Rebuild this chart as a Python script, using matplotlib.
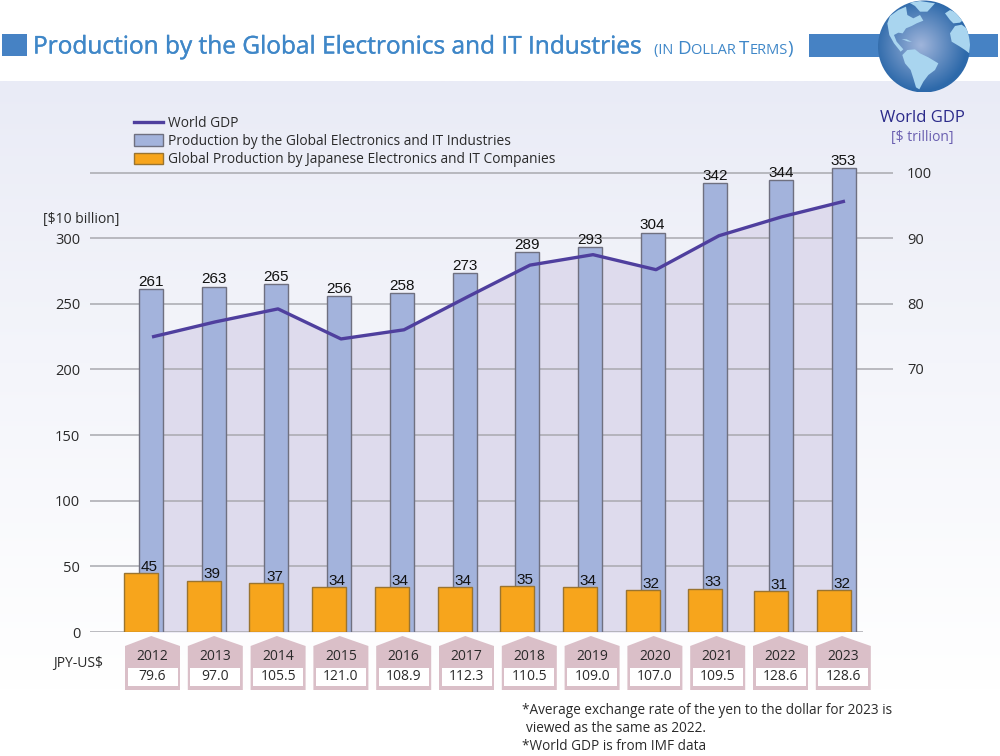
import numpy as np
import matplotlib
matplotlib.use("Agg")
import matplotlib.pyplot as plt
import matplotlib.patheffects as PathEffects
from matplotlib.patches import Circle, Polygon, Rectangle
from matplotlib.lines import Line2D
from matplotlib.transforms import blended_transform_factory

plt.rcParams["font.family"] = ["Open Sans", "DejaVu Sans"]

years = [2012, 2013, 2014, 2015, 2016, 2017, 2018, 2019, 2020, 2021, 2022, 2023]
global_prod = [261, 263, 265, 256, 258, 273, 289, 293, 304, 342, 344, 353]
japan_prod = [45, 39, 37, 34, 34, 34, 35, 34, 32, 33, 31, 32]
world_gdp = [74.9, 77.2, 79.2, 74.6, 76.0, 81.0, 85.9, 87.5, 85.2, 90.4, 93.3, 95.7]
jpy_usd = ["79.6", "97.0", "105.5", "121.0", "108.9", "112.3", "110.5", "109.0", "107.0", "109.5", "128.6", "128.6"]
left_ticks = [0, 50, 100, 150, 200, 250, 300]
right_ticks = [70, 80, 90, 100]

legend_labels = [
    "World GDP",
    "Production by the Global Electronics and IT Industries",
    "Global Production by Japanese Electronics and IT Companies",
]

BLUE = "#4682c4"
TITLE_BLUE = "#3f87c8"
TEXT = "#2a2a2a"
X0, STEP = 151, 62.7  # pixel position of the first bar and the bar spacing

fig = plt.figure(figsize=(10, 7.56), dpi=100)

# page layer in pixel coordinates: background, title band, globe
bg = fig.add_axes([0, 0, 1, 1], zorder=0)
bg.axis("off")

grad = np.linspace(0, 1, 256).reshape(-1, 1) ** 0.9
top = np.array([233, 235, 246]) / 255
rgb = top[None, None, :] * (1 - grad[..., None]) + grad[..., None]
bg.imshow(rgb, extent=(0, 1000, 690, 81), aspect="auto", zorder=0)

bg.add_patch(Rectangle((2, 34), 25, 22, color=BLUE, lw=0, zorder=1))
bg.add_patch(Rectangle((809, 34), 189, 23, color=BLUE, lw=0, zorder=1))

title = fig.text(0.033, 1 - 47.5 / 756, "Production by the Global Electronics and IT Industries",
                 color=TITLE_BLUE, fontsize=17.6, va="center", ha="left")
title.set_path_effects([PathEffects.withStroke(linewidth=0.25, foreground=TITLE_BLUE)])

# small caps subtitle, one piece after the other
fig.canvas.draw()
rend = fig.canvas.get_renderer()
x_pos = 654
for piece, size in [("(IN ", 10.5), ("D", 13.5), ("OLLAR ", 10.5), ("T", 13.5), ("ERMS", 10.5), (")", 13.5)]:
    t = fig.text(x_pos / 1000, 1 - 54 / 756, piece.replace(" ", "\u00a0"), color=TITLE_BLUE,
                 fontsize=size, va="baseline", ha="left")
    x_pos += t.get_window_extent(rend).width

# globe
cx, cy, r = 924, 46.5, 46
xx, yy = np.meshgrid(np.linspace(cx - r, cx + r, 200), np.linspace(cy - r, cy + r, 200))
dist = np.clip(np.hypot(xx - (cx - 3), yy - (cy - 1)) / r, 0, 1)[..., None]
inner = np.array([160, 181, 219]) / 255
outer = np.array([45, 105, 170]) / 255
globe = bg.imshow(inner * (1 - dist) + outer * dist, extent=(cx - r, cx + r, cy + r, cy - r),
                  aspect="auto", zorder=2)
globe.set_clip_path(Circle((cx, cy), r, transform=bg.transData))

continents = [
    [(97, 165), (112, 150), (135, 148), (150, 160), (175, 172), (205, 190), (195, 210), (175, 225),
     (160, 245), (148, 268), (138, 262), (130, 235), (122, 210), (105, 190)],
    [(52, 70), (60, 48), (85, 30), (108, 20), (112, 45), (130, 55), (150, 45), (160, 62), (140, 70), (125, 78),
     (108, 85), (98, 100), (85, 98), (72, 105), (80, 125), (100, 148), (92, 155), (72, 130), (58, 105)],
    [(118, 8), (150, 3), (195, 10), (172, 35), (150, 35), (135, 18)],
    [(240, 100), (255, 78), (275, 74), (290, 85), (302, 110), (298, 160), (285, 150), (270, 140), (245, 125)],
    [(225, 40), (240, 30), (265, 40), (285, 55), (270, 68), (250, 70), (240, 60)],
    [(95, 117), (110, 118), (126, 126), (112, 124)],
]
for shape in continents:
    land = Polygon([(870 + a / 3, b / 3) for a, b in shape], closed=True, fc="#a9d5ef", ec="none", zorder=3)
    bg.add_patch(land)
    land.set_clip_path(Circle((cx, cy), r, transform=bg.transData))
bg.set_xlim(0, 1000)
bg.set_ylim(756, 0)

# chart: 0 sits at y=632, 300 at y=238, right axis 100 at y=173 and 70 at y=369
ax = fig.add_axes([90 / 1000, 1 - 632 / 756, (893 - 90) / 1000, (632 - 160) / 756], zorder=3)
ax.patch.set_alpha(0)
idx = np.arange(len(years))
x = idx + np.where(idx >= 10, 3 / STEP, 0)  # the last two groups sit a little to the right
x_left, x_right = (90 - X0) / STEP, (893 - X0) / STEP
ax.set_xlim(x_left, x_right)
ax.set_ylim(0, 472 / 1.3133)
ax.set_xticks([])
for side in ax.spines:
    ax.spines[side].set_visible(False)
ax.set_yticks(left_ticks)
ax.tick_params(axis="y", length=0, pad=7, labelsize=10.5, labelcolor=TEXT)

ax2 = ax.twinx()
ax2.set_ylim(100 - 459 / 6.533, 100 + 13 / 6.533)
ax2.set_xlim(x_left, x_right)
ax2.set_yticks(right_ticks)
ax2.tick_params(axis="y", length=0, pad=10, labelsize=10.5, labelcolor=TEXT)
for side in ax2.spines:
    ax2.spines[side].set_visible(False)
ax2.patch.set_alpha(0)
ax2.set_zorder(2)

line_x = (1 + 63 * idx) / STEP
ax2.fill_between(line_x, world_gdp, ax2.get_ylim()[0], color="#dedbed", lw=0, zorder=1)

grid_color = "#a9a9af"
end_last_bar = (856 - X0) / STEP
ax2.hlines([100, 90, 80, 70], x_left, x_right, color=grid_color, lw=1.1, zorder=2)
ax.hlines([50, 100, 150], x_left, end_last_bar, color=grid_color, lw=1.1, zorder=2)
ax.hlines(0, x_left - 0.03, (863 - X0) / STEP, color=grid_color, lw=1.1, zorder=2)

ax.bar(x, global_prod, width=24 / STEP, color="#a3b3dc", edgecolor="#6f7080", linewidth=1.0, zorder=3)
ax.bar(x - 10 / STEP, japan_prod, width=34 / STEP, color="#f7a51c", edgecolor="#9a7430", linewidth=1.0, zorder=4)

# the line lives on the right axis, drawn in a top layer so it stays over the bars
ax3 = ax.twinx()
ax3.set_ylim(ax2.get_ylim())
ax3.set_xlim(x_left, x_right)
ax3.axis("off")
ax3.set_zorder(4)
ax3.plot(line_x, world_gdp, color="#4f3f9e", lw=2.4, zorder=5, solid_capstyle="butt")

for xi, v in zip(x, global_prod):
    ax3.text(xi, ax2.get_ylim()[0] + (v + 0.2) * 1.3133 / 6.533, str(v), ha="center", va="bottom",
             fontsize=11, family="Liberation Sans", color="#111111", zorder=6)
for xi, v in zip(x, japan_prod):
    ax3.text(xi - 0.03, ax2.get_ylim()[0] + (v - 0.5) * 1.3133 / 6.533, str(v), ha="center", va="bottom",
             fontsize=11, family="Liberation Sans", color="#111111", zorder=6)

# year and rate tags under the bars, x from the chart scale, y in page pixels
tag = blended_transform_factory(ax.transData, bg.transData)
for i, year, rate in zip(idx, years, jpy_usd):
    c = (1.5 + 62.8 * i) / STEP
    half = 27.5 / STEP
    house = [(c - half, 646), (c - 0.02, 636), (c + half, 646), (c + half, 690), (c - half, 690)]
    fig.add_artist(Polygon(house, closed=True, fc="#dabfc8", ec="none", transform=tag, zorder=1))
    inner_w = 25 / STEP
    fig.add_artist(Rectangle((c - inner_w, 668), 2 * inner_w, 18, fc="white", ec="none", transform=tag, zorder=1))
    fig.text(c, 657, str(year), transform=tag, ha="center", va="center", fontsize=10, color=TEXT, zorder=2)
    fig.text(c, 677, rate, transform=tag, ha="center", va="center", fontsize=10, color=TEXT, zorder=2)

handles = [
    Line2D([0], [0], color="#4f3f9e", lw=2.4),
    Rectangle((0, 0), 1, 1, fc="#a3b3dc", ec="#6f7080"),
    Rectangle((0, 0), 1, 1, fc="#f7a51c", ec="#9a7430"),
]
fig.legend(handles, legend_labels, loc="upper left", bbox_to_anchor=(0.124, 1 - 106.5 / 756), frameon=False,
           fontsize=9.93, handlelength=2.1, handleheight=0.95, handletextpad=0.38, labelspacing=0.22,
           labelcolor=TEXT, borderpad=0.2)

page = bg.transData
fig.text(43, 219, "[$10 billion]", transform=page, fontsize=10, color=TEXT, va="center")
fig.text(53, 664, "JPY-US$", transform=page, fontsize=10, color=TEXT, va="center")
fig.text(922, 117.5, "World GDP", transform=page, fontsize=12, color="#2b2a8a", ha="center", va="center")
fig.text(922, 138, "[$ trillion]", transform=page, fontsize=10, color="#6a5fb0", ha="center", va="center")
fig.text(522, 711, "*Average exchange rate of the yen to the dollar for 2023 is", transform=page,
         fontsize=9.8, color=TEXT, va="center")
fig.text(526, 729, "viewed as the same as 2022.", transform=page, fontsize=9.8, color=TEXT, va="center")
fig.text(522, 746, "*World GDP is from IMF data", transform=page, fontsize=9.8, color=TEXT, va="center")

fig.savefig("out.png", dpi=100)
